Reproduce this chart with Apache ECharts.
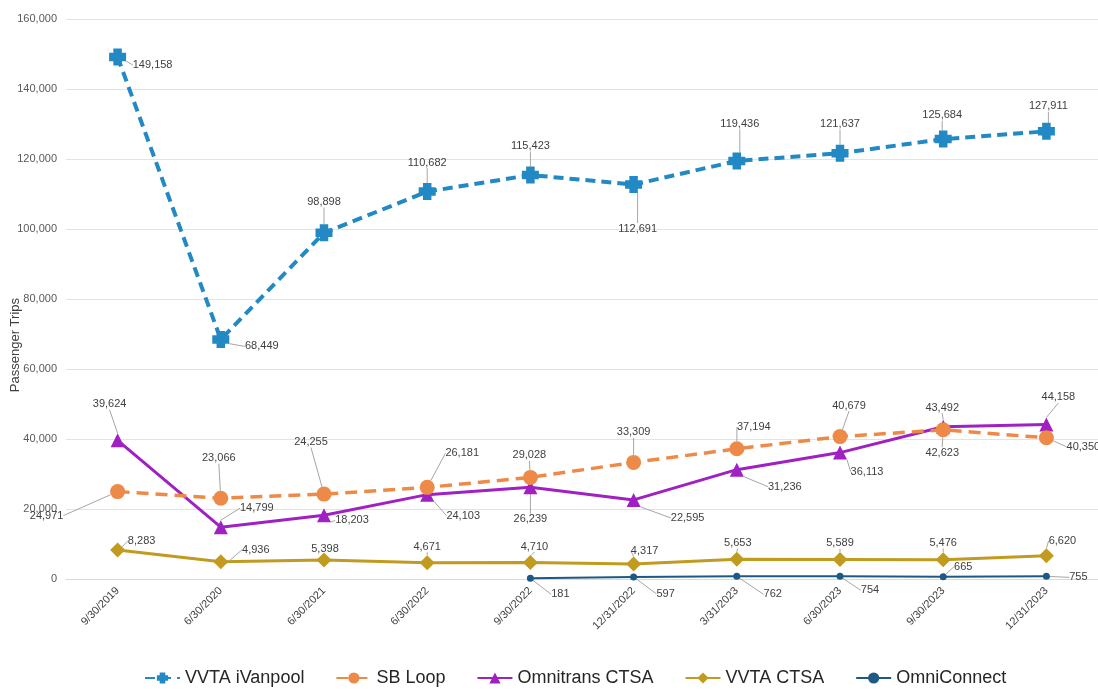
<!DOCTYPE html>
<html>
<head>
<meta charset="utf-8">
<script src="https://cdn.jsdelivr.net/npm/echarts@6/dist/echarts.min.js"></script>
<style>
  html, body { margin: 0; padding: 0; background: #fff; }
  #chart { width: 1098px; height: 692px; }
</style>
</head>
<body>
<div id="chart"></div>
<script>
// quarters on the x axis
var quarters = ['9/30/2019', '6/30/2020', '6/30/2021', '6/30/2022', '9/30/2022',
                '12/31/2022', '3/31/2023', '6/30/2023', '9/30/2023', '12/31/2023'];

// passenger trips per service
var vvtaIvanpool  = [149158, 68449, 98898, 110682, 115423, 112691, 119436, 121637, 125684, 127911];
var sbLoop        = [24971, 23066, 24255, 26181, 29028, 33309, 37194, 40679, 42623, 40350];
var omnitransCtsa = [39624, 14799, 18203, 24103, 26239, 22595, 31236, 36113, 43492, 44158];
var vvtaCtsa      = [8283, 4936, 5398, 4671, 4710, 4317, 5653, 5589, 5476, 6620];
var omniConnect   = [null, null, null, null, 181, 597, 762, 754, 665, 755];

// y axis ticks
var yTicks = [0, 20000, 40000, 60000, 80000, 100000, 120000, 140000, 160000];

/* callout offsets for the data labels (dx, dy from the point) */
var calloutIvanpool  = [[35, 8], [41, 7], [0, -31], [0, -29], [0, -29], [4, 44], [3, -37], [0, -29], [-1, -24], [2, -25]];
var calloutSbLoop    = [[-71, 24], [-2, -40], [-13, -52], [35, -34], [-1, -22], [0, -30], [17, -22], [9, -31], [-1, 23], [37, 9]];
var calloutOmnitrans = [[-8, -36], [36, -19], [28, 5], [36, 21], [0, 32], [54, 18], [48, 17], [27, 19], [-1, -19], [12, -27]];
var calloutVvtaCtsa  = [[24, -9], [35, -12], [1, -11], [0, -16], [4, -16], [11, -13], [1, -16], [0, -16], [0, -17], [16, -15]];
var calloutOmniConn  = [null, null, null, null, [30, 16], [32, 17], [36, 18], [30, 14], [20, -10], [32, 1]];

var fontName = '"Liberation Sans", Arial, sans-serif';

function fmt(v) {
    return Number(v).toLocaleString('en-US');
}

//生成一个折线系列
function makeSeries(name, data, color, opts, callouts) {
    return {
        name: name,
        type: 'line',
        data: data,
        connectNulls: false,
        symbol: opts.symbol,
        symbolSize: opts.symbolSize,
        itemStyle: { color: color },
        lineStyle: { color: color, width: opts.width, type: opts.dash || 'solid' },
        z: opts.z,
        label: {
            show: true,
            position: 'inside',
            color: '#404040',
            fontSize: 11,
            fontFamily: fontName,
            formatter: function (p) { return fmt(p.value); }
        },
        labelLine: {
            show: true,
            lineStyle: { color: '#a6a6a6', width: 1 }
        },
        labelLayout: function (p) {
            var o = callouts[p.dataIndex];
            return o ? { dx: o[0], dy: o[1] } : {};
        },
        emphasis: { disabled: true }
    };
}

var chart = echarts.init(document.getElementById('chart'));

var option = {
    backgroundColor: '#ffffff',
    animation: false,
    textStyle: { fontFamily: fontName },
    grid: { left: 66, right: -4, top: 19, bottom: 113 },
    legend: {
        bottom: 0,
        left: 139,
        itemWidth: 35,
        itemHeight: 14,
        itemGap: 31,
        textStyle: { fontSize: 18, color: '#262626', fontFamily: fontName },
        data: ['VVTA iVanpool', 'SB Loop', 'Omnitrans CTSA', 'VVTA CTSA', 'OmniConnect']
    },
    xAxis: {
        type: 'category',
        data: quarters,
        boundaryGap: true,
        axisLine: { show: true, lineStyle: { color: '#d9d9d9' } },
        axisTick: { show: false },
        axisLabel: { rotate: 45, interval: 0, margin: 10, fontSize: 11, color: '#404040' }
    },
    yAxis: {
        type: 'value',
        min: yTicks[0],
        max: yTicks[yTicks.length - 1],
        interval: yTicks[1] - yTicks[0],
        axisLine: { show: false },
        axisTick: { show: false },
        axisLabel: { margin: 9, fontSize: 11, color: '#595959', formatter: fmt },
        splitLine: { lineStyle: { color: '#e3e3e3', width: 1 } }
    },
    graphic: [{
        type: 'text',
        left: 9,
        top: 298,
        rotation: Math.PI / 2,
        style: { text: 'Passenger Trips', fontSize: 13, fill: '#404040', fontFamily: fontName }
    }],
    series: [
        makeSeries('VVTA iVanpool', vvtaIvanpool, '#2389c4',
            { symbol: 'path://M2.5,0 H7.5 V2.5 H10 V7.5 H7.5 V10 H2.5 V7.5 H0 V2.5 H2.5 Z', symbolSize: 17, width: 4, dash: [10, 6], z: 6 }, calloutIvanpool),
        makeSeries('SB Loop', sbLoop, '#ee8a48',
            { symbol: 'circle', symbolSize: 15, width: 3.5, dash: [12, 7], z: 5 }, calloutSbLoop),
        makeSeries('Omnitrans CTSA', omnitransCtsa, '#a021c3',
            { symbol: 'triangle', symbolSize: 14, width: 3, z: 4 }, calloutOmnitrans),
        makeSeries('VVTA CTSA', vvtaCtsa, '#c19b1f',
            { symbol: 'diamond', symbolSize: 15, width: 3, z: 3 }, calloutVvtaCtsa),
        makeSeries('OmniConnect', omniConnect, '#1c5a85',
            { symbol: 'circle', symbolSize: 7, width: 2, z: 2 }, calloutOmniConn)
    ]
};

chart.setOption(option);
</script>
</body>
</html>
